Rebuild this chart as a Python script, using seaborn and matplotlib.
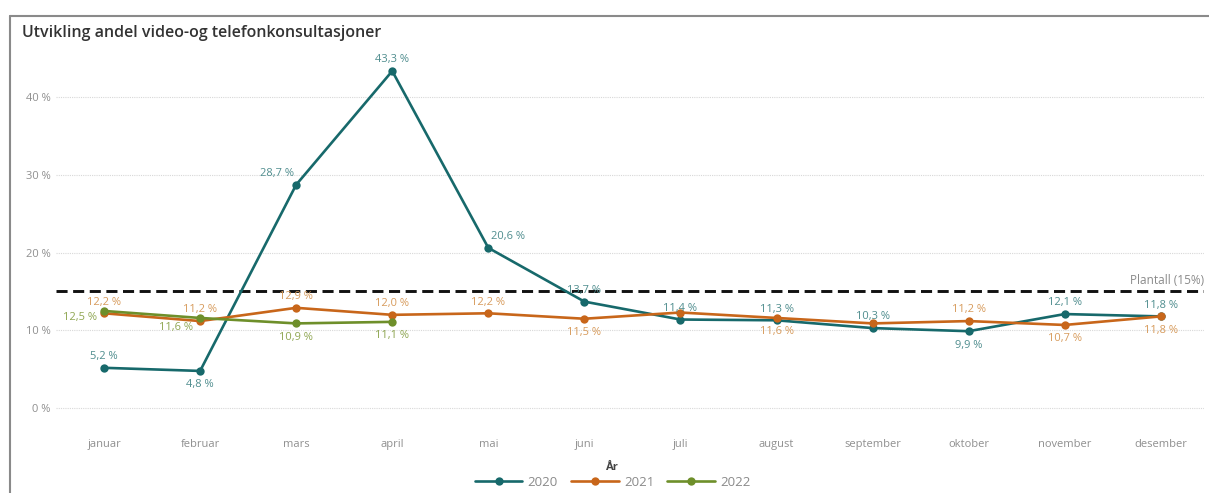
import matplotlib
matplotlib.use("Agg")
import matplotlib.pyplot as plt
from matplotlib.lines import Line2D
import seaborn as sns
import pandas as pd

# ---- data ----
months = ["januar", "februar", "mars", "april", "mai", "juni", "juli",
          "august", "september", "oktober", "november", "desember"]
share_2020 = [5.2, 4.8, 28.7, 43.3, 20.6, 13.7, 11.4, 11.3, 10.3, 9.9, 12.1, 11.8]
share_2021 = [12.2, 11.2, 12.9, 12.0, 12.2, 11.5, 12.3, 11.6, 10.9, 11.2, 10.7, 11.8]
share_2022 = [12.5, 11.6, 10.9, 11.1]
years = ["2020", "2021", "2022"]
target = 15.0

# farger
line_colors = {"2020": "#17696b", "2021": "#c8661a", "2022": "#6e8f2a"}
label_colors = {"2020": "#4f8d8e", "2021": "#d79b5c", "2022": "#8fa652"}

rows = []
for yr, vals in zip(years, [share_2020, share_2021, share_2022]):
    for i, v in enumerate(vals):
        rows.append({"month": i, "share": v, "year": yr})
df = pd.DataFrame(rows)

sns.set_style("white")
plt.rcParams["font.family"] = ["Open Sans", "DejaVu Sans"]

fig = plt.figure(figsize=(12.09, 4.93), dpi=100)
ax = fig.add_axes([56 / 1209, 73 / 493, 1148 / 1209, 370 / 493])

sns.lineplot(data=df, x="month", y="share", hue="year", palette=line_colors,
             marker="o", markersize=6, markeredgewidth=0, linewidth=1.9,
             ax=ax, legend=True)

# plantall
ax.axhline(target, color="#111111", linestyle=(0, (3.8, 1.9)), linewidth=2.1, zorder=1)
ax.text(1.0, target + 0.6, "Plantall (15%)", transform=ax.get_yaxis_transform(),
        ha="right", va="bottom", fontsize=8.5, color="#8a8a8a")

# dataetiketter: (dx, dy) i punkter, None = skjult
offsets = {
    "2020": [(0, 8), (0, -10), (-14, 8), (0, 8), (14, 8), (0, 8), (0, 8),
             (0, 8), (0, 8), (0, -10), (0, 8), (0, 8)],
    "2021": [(0, 8), (0, 8), (0, 8), (0, 8), (0, 8), (0, -10), None,
             (0, -10), None, (0, 8), (0, -10), (0, -10)],
    "2022": [(-17, -5), (-17, -7), (0, -10), (0, -10)],
}
for yr, vals in zip(years, [share_2020, share_2021, share_2022]):
    for i, v in enumerate(vals):
        off = offsets[yr][i]
        if off is None:
            continue
        ax.annotate(f"{v:.1f} %".replace(".", ","), (i, v), xytext=off,
                    textcoords="offset points", ha="center", va="center",
                    fontsize=8, color=label_colors[yr])

ax.set_xlim(-0.5, 11.45)
ax.set_ylim(-1.5, 46)
ax.set_xticks(range(len(months)))
ax.set_xticklabels(months)
ax.set_yticks([0, 10, 20, 30, 40])
ax.set_yticklabels([f"{t} %" for t in [0, 10, 20, 30, 40]])
ax.tick_params(axis="both", length=0, labelsize=8, labelcolor="#8f8f8f")
ax.tick_params(axis="x", pad=14)
ax.tick_params(axis="y", pad=4)
ax.grid(axis="y", color="#d8d8d8", linestyle=(0, (1, 1)), linewidth=0.8)
ax.set_axisbelow(True)
for s in ax.spines.values():
    s.set_visible(False)
ax.set_xlabel("")
ax.set_ylabel("")

handles, labels = ax.get_legend_handles_labels()
leg = ax.legend(handles, labels, title="År", loc="upper center",
                bbox_to_anchor=(0.485, -0.093), ncol=3, frameon=False,
                fontsize=9.5, handlelength=3.6, columnspacing=1.0,
                handletextpad=0.4, borderpad=0.1, labelspacing=0.2)
for t in leg.get_texts():
    t.set_color("#8a8a8a")
leg.get_title().set_fontsize(8)
leg.get_title().set_fontweight("bold")
leg.get_title().set_color("#444444")

# tittel og ramme
fig.text(22 / 1209, 1 - 33 / 493, "Utvikling andel video-og telefonkonsultasjoner",
         ha="left", va="center", fontsize=11.5, fontweight="semibold", color="#333333")
fig.add_artist(Line2D([10 / 1209, 1.0], [1 - 16 / 493, 1 - 16 / 493],
                      color="#8a8a8a", linewidth=1.5))
fig.add_artist(Line2D([10 / 1209, 10 / 1209], [0, 1 - 16 / 493],
                      color="#8a8a8a", linewidth=1.5))

fig.savefig("out.png", dpi=100)
